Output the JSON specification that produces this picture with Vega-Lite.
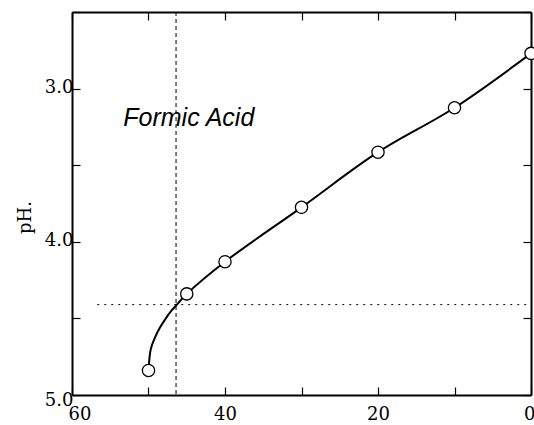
{
  "$schema": "https://vega.github.io/schema/vega-lite/v6.json",
  "width": 459,
  "height": 383,
  "autosize": {"type": "none"},
  "padding": {"left": 72, "top": 12, "right": 3, "bottom": 30},
  "background": "white",
  "config": {
    "view": {"stroke": null},
    "axis": {
      "grid": false,
      "domainColor": "black",
      "domainWidth": 2,
      "tickColor": "black",
      "tickWidth": 1.2,
      "labelColor": "black",
      "labelFont": "DejaVu Serif",
      "labelFontSize": 18,
      "titleColor": "black"
    }
  },
  "datasets": {
    "points": [
      {"acid": 50, "pH": 4.84},
      {"acid": 45, "pH": 4.34},
      {"acid": 40, "pH": 4.13},
      {"acid": 30, "pH": 3.775},
      {"acid": 20, "pH": 3.415},
      {"acid": 10, "pH": 3.125},
      {"acid": 0, "pH": 2.77}
    ],
    "curve": [
      {"acid": 50, "pH": 4.84},
      {"acid": 49.7, "pH": 4.7},
      {"acid": 49.2, "pH": 4.63},
      {"acid": 48.5, "pH": 4.56},
      {"acid": 47.8, "pH": 4.505},
      {"acid": 47.0, "pH": 4.45},
      {"acid": 46.2, "pH": 4.405},
      {"acid": 45, "pH": 4.34},
      {"acid": 40, "pH": 4.13},
      {"acid": 30, "pH": 3.775},
      {"acid": 20, "pH": 3.415},
      {"acid": 10, "pH": 3.125},
      {"acid": 0, "pH": 2.77}
    ],
    "guides": [
      {"acid": 46.4, "pH": 4.41, "acidStart": 56.7, "acidEnd": 0}
    ],
    "labels": [
      {"acid": 53.3, "pH": 3.244, "text": "Formic Acid"}
    ]
  },
  "resolve": {"axis": {"x": "independent", "y": "independent"}},
  "layer": [
    {
      "data": {"name": "guides"},
      "mark": {"type": "rule", "color": "black", "strokeWidth": 1, "strokeDash": [4, 3]},
      "encoding": {
        "x": {"field": "acid", "type": "quantitative", "scale": {"domain": [0, 60], "reverse": true, "nice": false, "zero": false}, "axis": null}
      }
    },
    {
      "data": {"name": "guides"},
      "mark": {"type": "rule", "color": "black", "strokeWidth": 1, "strokeDash": [2, 5]},
      "encoding": {
        "x": {"field": "acidStart", "type": "quantitative", "axis": null},
        "x2": {"field": "acidEnd"},
        "y": {"field": "pH", "type": "quantitative", "scale": {"domain": [2.5, 5.0], "reverse": true, "nice": false, "zero": false}, "axis": null}
      }
    },
    {
      "data": {"name": "curve"},
      "mark": {"type": "line", "color": "black", "strokeWidth": 2, "interpolate": "catmull-rom"},
      "encoding": {
        "x": {"field": "acid", "type": "quantitative", "axis": {"orient": "top", "values": [0, 10, 20, 30, 40, 50, 60], "labels": false, "title": null, "tickSize": -8, "domainWidth": 2}},
        "y": {"field": "pH", "type": "quantitative", "axis": {"orient": "right", "values": [2.5, 3.0, 3.5, 4.0, 4.5, 5.0], "labels": false, "title": null, "tickSize": -8, "domainWidth": 2}}
      }
    },
    {
      "data": {"name": "points"},
      "mark": {"type": "point", "shape": "circle", "filled": true, "fill": "white", "stroke": "black", "strokeWidth": 1.3, "size": 150, "opacity": 1},
      "encoding": {
        "x": {
          "field": "acid", "type": "quantitative",
          "axis": {
            "orient": "bottom", "title": null,
            "values": [0, 10, 20, 30, 40, 50, 60],
            "labelExpr": "datum.value % 20 == 0 ? format(datum.value, 'd') : ''",
            "tickSize": -8, "labelPadding": 18,
            "labelFlush": true, "labelFlushOffset": 4
          }
        },
        "y": {
          "field": "pH", "type": "quantitative",
          "axis": {
            "orient": "left",
            "title": "pH.",
            "titleFont": "DejaVu Serif",
            "titleFontSize": 18,
            "titleFontWeight": "normal",
            "titleX": -47,
            "titleY": 205,
            "titleAngle": -90,
            "titleAlign": "center",
            "titleBaseline": "middle",
            "values": [2.5, 3.0, 3.5, 4.0, 4.5, 5.0],
            "labelExpr": "datum.value % 1 == 0 ? format(datum.value, '.1f') : ''",
            "tickSize": -8, "labelPadding": 7, "labelFlush": false,
            "labelOffset": {"condition": {"test": "datum.value == 5", "value": 5}, "value": -1}
          }
        }
      }
    },
    {
      "data": {"name": "labels"},
      "mark": {"type": "text", "font": "Liberation Sans", "fontStyle": "italic", "fontSize": 25, "align": "left", "baseline": "alphabetic", "color": "black"},
      "encoding": {
        "x": {"field": "acid", "type": "quantitative", "axis": null},
        "y": {"field": "pH", "type": "quantitative", "axis": null},
        "text": {"field": "text"}
      }
    }
  ]
}
